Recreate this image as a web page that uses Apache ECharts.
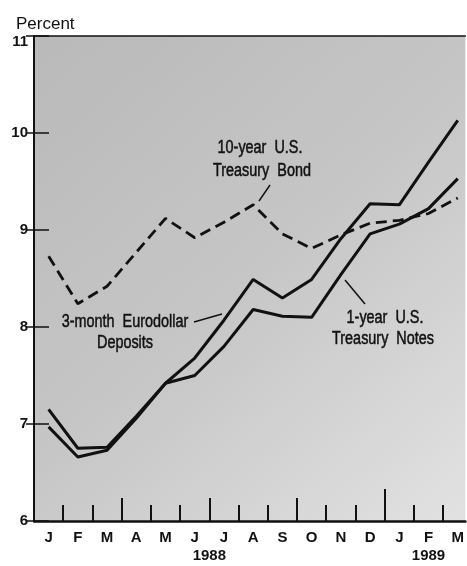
<!DOCTYPE html>
<html>
<head>
<meta charset="utf-8">
<script src="https://cdn.jsdelivr.net/npm/echarts@6/dist/echarts.min.js"></script>
<style>
  html, body { margin: 0; padding: 0; background: #fff; }
  #chart { width: 467px; height: 566px; }
</style>
</head>
<body>
<div id="chart"></div>
<script>
// months Jan 1988 - Mar 1989, plotted at mid-month (x = index + 0.5)
const months = ['J', 'F', 'M', 'A', 'M', 'J', 'J', 'A', 'S', 'O', 'N', 'D', 'J', 'F', 'M']
const bond10y = [8.73, 8.24, 8.42, 8.77, 9.12, 8.92, 9.08, 9.26, 8.96, 8.81, 8.95, 9.07, 9.10, 9.17, 9.33]
const euro3m = [7.15, 6.75, 6.76, 7.08, 7.42, 7.68, 8.07, 8.49, 8.30, 8.49, 8.91, 9.27, 9.26, 9.70, 10.13]
const notes1y = [6.97, 6.66, 6.73, 7.06, 7.42, 7.50, 7.80, 8.18, 8.11, 8.10, 8.54, 8.96, 9.06, 9.22, 9.53]
const shortTicks = [1, 2, 4, 5, 7, 8, 10, 11, 13, 14]
const quarterTicks = [3, 6, 9]
const yearTicks = [12]
const yearLabels = { 6: '1988', 13.5: '1989' }

const FONT = '"Liberation Sans", Arial, sans-serif'
const X_MAX = 14.76

const chart = echarts.init(document.getElementById('chart'), null, { renderer: 'canvas' })

function pts(arr) {
  return arr.map((v, i) => [i + 0.5, v])
}

function bottomAxis(extra) {
  return Object.assign({
    type: 'value',
    min: 0,
    max: X_MAX,
    position: 'bottom',
    axisLine: { show: false },
    axisTick: { show: false },
    axisLabel: { show: false },
    splitLine: { show: false }
  }, extra)
}

// condensed-looking annotation text (scaled Liberation Sans)
function note(text, x, y) {
  return {
    type: 'text', x: x, y: y, scaleX: 0.8,
    style: {
      text: text, font: '18px ' + FONT, fill: '#111', stroke: '#111', lineWidth: 0.5,
      align: 'center', verticalAlign: 'middle'
    }
  }
}

function pointer(x1, y1, x2, y2) {
  return { type: 'line', shape: { x1: x1, y1: y1, x2: x2, y2: y2 }, style: { stroke: '#111', lineWidth: 1.5 } }
}

const option = {
  animation: false,
  backgroundColor: '#fff',
  grid: {
    left: 34, right: 0, top: 36, bottom: 45,
    show: true,
    borderWidth: 0,
    backgroundColor: new echarts.graphic.LinearGradient(0, 0, 1, 1, [
      { offset: 0, color: '#b9b9b9' },
      { offset: 0.5, color: '#c6c6c6' },
      { offset: 1, color: '#e2e2e2' }
    ])
  },
  title: {
    text: 'Percent',
    left: 11, top: 11,
    textStyle: { fontFamily: FONT, fontSize: 17, fontWeight: 'normal', color: '#111' }
  },
  xAxis: [
    // main axis line, short month ticks, month letters
    bottomAxis({
      axisLine: { show: true, onZero: false, lineStyle: { color: '#111', width: 2.5 } },
      axisTick: { show: true, inside: true, length: 16, customValues: shortTicks, lineStyle: { color: '#111', width: 2 } },
      axisLabel: {
        show: true, margin: 9, customValues: months.map((m, i) => i + 0.5),
        formatter: v => months[Math.round(v - 0.5)],
        fontFamily: FONT, fontSize: 15, fontWeight: 'bold', color: '#111'
      }
    }),
    // quarter ticks
    bottomAxis({
      axisTick: { show: true, inside: true, length: 23, customValues: quarterTicks, lineStyle: { color: '#111', width: 2 } }
    }),
    // year boundary tick
    bottomAxis({
      axisTick: { show: true, inside: true, length: 32, customValues: yearTicks, lineStyle: { color: '#111', width: 2 } }
    }),
    // year labels
    bottomAxis({
      axisLabel: {
        show: true, margin: 27, customValues: [6, 13.5],
        formatter: v => yearLabels[v] || '',
        fontFamily: FONT, fontSize: 15, fontWeight: 'bold', color: '#111'
      }
    }),
    // top frame line
    bottomAxis({
      position: 'top',
      axisLine: { show: true, onZero: false, lineStyle: { color: '#111', width: 1.5 } }
    })
  ],
  yAxis: [
    {
      type: 'value', min: 6, max: 11, interval: 1,
      axisLine: { show: true, lineStyle: { color: '#111', width: 2 } },
      axisTick: { show: true, inside: true, length: 15, lineStyle: { color: '#111', width: 1.5 } },
      axisLabel: {
        margin: 6, fontFamily: FONT, fontSize: 15, fontWeight: 'bold', color: '#111',
        formatter: v => (v === 11 ? '{t|11}' : String(v)),
        rich: { t: { fontFamily: FONT, fontSize: 15, fontWeight: 'bold', color: '#111', padding: [12, 0, 0, 0] } }
      },
      splitLine: { show: false }
    },
    {
      type: 'value', min: 6, max: 11, interval: 1, position: 'right',
      axisLine: { show: false },
      axisTick: { show: true, inside: true, length: 8, lineStyle: { color: '#111', width: 1.5 } },
      axisLabel: { show: false },
      splitLine: { show: false }
    }
  ],
  series: [
    {
      name: '10-year U.S. Treasury Bond', type: 'line', data: pts(bond10y),
      symbol: 'none', lineStyle: { color: '#111', width: 2.8, type: [11, 6] }
    },
    {
      name: '3-month Eurodollar Deposits', type: 'line', data: pts(euro3m),
      symbol: 'none', lineStyle: { color: '#111', width: 3 }
    },
    {
      name: '1-year U.S. Treasury Notes', type: 'line', data: pts(notes1y),
      symbol: 'none', lineStyle: { color: '#111', width: 3 }
    }
  ],
  graphic: [
    note('10-year  U.S.', 260, 148),
    note('Treasury  Bond', 262, 171),
    pointer(270, 185, 259, 201),

    note('3-month  Eurodollar', 125, 322),
    note('Deposits', 125, 343),
    pointer(194, 322, 222, 314),

    note('1-year  U.S.', 385, 318),
    note('Treasury  Notes', 383, 339),
    pointer(365, 304, 345, 280)
  ]
}

chart.setOption(option)
</script>
</body>
</html>
